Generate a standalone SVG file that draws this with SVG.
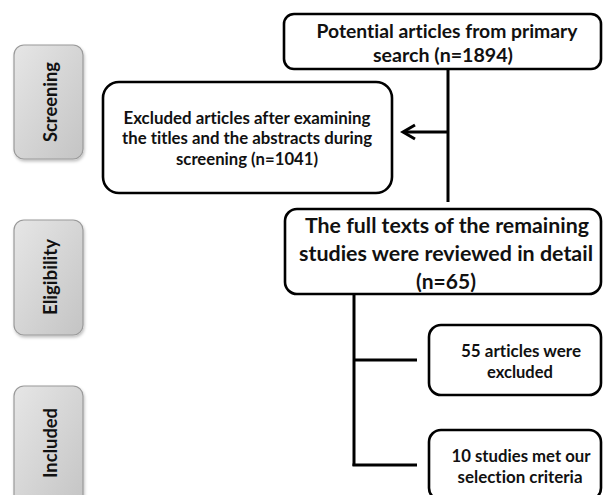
<svg xmlns="http://www.w3.org/2000/svg" width="603" height="495" viewBox="0 0 603 495">
<defs>
<linearGradient id="pg" x1="0" y1="0" x2="1" y2="1">
<stop offset="0" stop-color="#e6e6e6"/>
<stop offset="1" stop-color="#c4c4c4"/>
</linearGradient>
<filter id="sh" x="-20%" y="-20%" width="140%" height="140%">
<feDropShadow dx="1" dy="2" stdDeviation="1.5" flood-color="#000" flood-opacity="0.25"/>
</filter>
</defs>
<style>
.pill{fill:url(#pg);stroke:#9a9a9a;stroke-width:1.2;filter:url(#sh)}
.box{fill:#fff;stroke:#000;stroke-width:2.6}
.t{font-family:Lato,"Liberation Sans",sans-serif;font-weight:bold;fill:#111;text-anchor:middle;font-variant-ligatures:none}
.con{fill:none;stroke:#000;stroke-width:3;stroke-linecap:butt}
</style>
<rect width="603" height="495" fill="#fff"/>

<g id="phase-screening">
<rect class="pill" x="14" y="45" width="69" height="114" rx="10"/>
<text class="t" font-size="18" transform="translate(57,102) rotate(-90)" textLength="80" lengthAdjust="spacingAndGlyphs">Screening</text>
</g>
<g id="phase-eligibility">
<rect class="pill" x="14" y="220" width="69" height="115" rx="10"/>
<text class="t" font-size="18" transform="translate(57,277) rotate(-90)" textLength="76" lengthAdjust="spacingAndGlyphs">Eligibility</text>
</g>
<g id="phase-included">
<rect class="pill" x="14" y="386" width="69" height="125" rx="10"/>
<text class="t" font-size="18" transform="translate(57,443) rotate(-90)" textLength="70" lengthAdjust="spacingAndGlyphs">Included</text>
</g>

<g id="connectors">
<line class="con" x1="448" y1="69" x2="448" y2="202"/>
<line class="con" x1="448" y1="132" x2="404" y2="132"/>
<polyline class="con" points="415,125 403,132 415,139"/>
<line class="con" x1="354" y1="294" x2="354" y2="466"/>
<line class="con" x1="354" y1="360" x2="417" y2="360"/>
<line class="con" x1="352.5" y1="465" x2="417" y2="465"/>
</g>

<g id="node-primary">
<rect class="box" x="284" y="14" width="317" height="55" rx="10"/>
<text class="t" font-size="18.5" x="447" y="38" textLength="261" lengthAdjust="spacingAndGlyphs">Potential articles from primary</text>
<text class="t" font-size="18.5" x="443" y="62" textLength="140" lengthAdjust="spacingAndGlyphs">search (n=1894)</text>
</g>

<g id="node-excluded-screening">
<rect class="box" x="103" y="82" width="289" height="111" rx="16"/>
<text class="t" font-size="16.5" x="247" y="124" textLength="247" lengthAdjust="spacingAndGlyphs">Excluded  articles after examining</text>
<text class="t" font-size="16.5" x="247" y="144" textLength="250" lengthAdjust="spacingAndGlyphs">the titles and the abstracts during</text>
<text class="t" font-size="16.5" x="247" y="165" textLength="142" lengthAdjust="spacingAndGlyphs">screening (n=1041)</text>
</g>

<g id="node-fulltext">
<rect class="box" x="285" y="209" width="316" height="85" rx="12"/>
<text class="t" font-size="21" x="447" y="233" textLength="284" lengthAdjust="spacingAndGlyphs">The full texts of the remaining</text>
<text class="t" font-size="21" x="446" y="261" textLength="294" lengthAdjust="spacingAndGlyphs">studies were reviewed in detail</text>
<text class="t" font-size="21" x="446" y="289">(n=65)</text>
</g>

<g id="node-excluded-55">
<rect class="box" x="429" y="325" width="172" height="70" rx="12"/>
<text class="t" font-size="16.5" x="521" y="357" textLength="120" lengthAdjust="spacingAndGlyphs">55 articles were</text>
<text class="t" font-size="16.5" x="520" y="378">excluded</text>
</g>

<g id="node-included-10">
<rect class="box" x="429" y="430" width="172" height="70" rx="12"/>
<text class="t" font-size="16.5" x="521" y="462" textLength="139" lengthAdjust="spacingAndGlyphs">10 studies met our</text>
<text class="t" font-size="16.5" x="520" y="483" textLength="125" lengthAdjust="spacingAndGlyphs">selection criteria</text>
</g>
</svg>
